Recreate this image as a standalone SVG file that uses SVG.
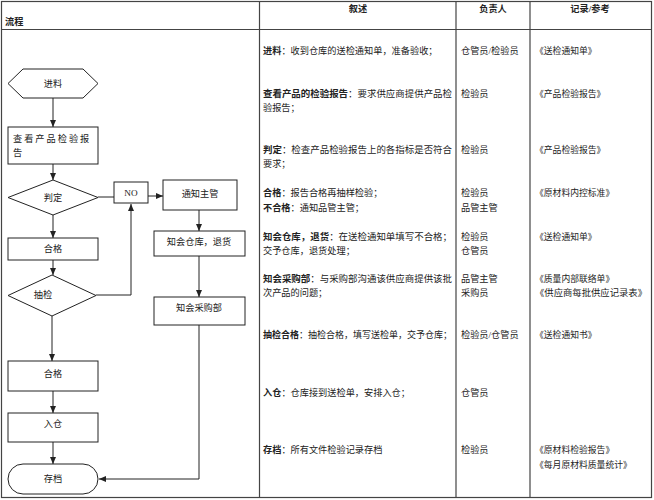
<svg xmlns="http://www.w3.org/2000/svg" width="654" height="500" viewBox="0 0 654 500">
<style>
text{font-family:"Liberation Serif","Noto Sans CJK SC",serif;font-size:9.2px;fill:#222}
.b{font-weight:bold}
.c{text-anchor:middle}
.s{fill:#fff;stroke:#222;stroke-width:1}
.l{fill:none;stroke:#222;stroke-width:1;marker-end:url(#a)}
.g{stroke:#444;stroke-width:1.2;fill:none}
#rec text{font-size:8.8px}
</style>
<defs><marker id="a" markerWidth="8" markerHeight="8" refX="7" refY="4" orient="auto" markerUnits="userSpaceOnUse"><path d="M0,1 L7,4 L0,7z" fill="#222"/></marker></defs>
<rect width="654" height="500" fill="#fff"/>
<g id="table">
<rect class="g" x="1.5" y="1.5" width="650" height="496"/>
<line class="g" x1="1.5" y1="29.5" x2="651" y2="29.5"/>
<line class="g" x1="259.5" y1="1.5" x2="259.5" y2="497"/>
<line class="g" x1="456" y1="1.5" x2="456" y2="497"/>
<line class="g" x1="530" y1="1.5" x2="530" y2="497"/>
<text class="b" x="5" y="25">流程</text>
<text class="b c" x="358" y="12">叙述</text>
<text class="b c" x="493" y="12">负责人</text>
<text class="b c" x="590" y="12">记录/参考</text>
</g>
<g id="desc">
<text x="263" y="54"><tspan class="b">进料</tspan>：收到仓库的送检通知单，准备验收；</text>
<text x="263" y="97" textLength="189" lengthAdjust="spacingAndGlyphs"><tspan class="b">查看产品的检验报告</tspan>：要求供应商提供产品检</text>
<text x="263" y="111">验报告；</text>
<text x="263" y="153" textLength="189" lengthAdjust="spacingAndGlyphs"><tspan class="b">判定</tspan>：检查产品检验报告上的各指标是否符合</text>
<text x="263" y="167">要求；</text>
<text x="263" y="196"><tspan class="b">合格</tspan>：报告合格再抽样检验；</text>
<text x="263" y="211"><tspan class="b">不合格</tspan>：通知品管主管；</text>
<text x="263" y="240" textLength="189" lengthAdjust="spacingAndGlyphs"><tspan class="b">知会仓库，退货</tspan>：在送检通知单填写不合格；</text>
<text x="263" y="254">交予仓库，退货处理；</text>
<text x="263" y="282" textLength="189" lengthAdjust="spacingAndGlyphs"><tspan class="b">知会采购部</tspan>：与采购部沟通该供应商提供该批</text>
<text x="263" y="296">次产品的问题；</text>
<text x="263" y="338" textLength="189" lengthAdjust="spacingAndGlyphs"><tspan class="b">抽检合格</tspan>：抽检合格，填写送检单，交予仓库；</text>
<text x="263" y="396"><tspan class="b">入仓</tspan>：仓库接到送检单，安排入仓；</text>
<text x="263" y="453"><tspan class="b">存档</tspan>：所有文件检验记录存档</text>
</g>
<g id="resp">
<text x="461" y="54">仓管员/检验员</text>
<text x="461" y="97">检验员</text>
<text x="461" y="153">检验员</text>
<text x="461" y="196">检验员</text>
<text x="461" y="211">品管主管</text>
<text x="461" y="240">检验员</text>
<text x="461" y="254">仓管员</text>
<text x="461" y="282">品管主管</text>
<text x="461" y="296">采购员</text>
<text x="461" y="338">检验员/仓管员</text>
<text x="461" y="396">仓管员</text>
<text x="461" y="453">检验员</text>
</g>
<g id="rec">
<text x="535" y="54">《送检通知单》</text>
<text x="535" y="97">《产品检验报告》</text>
<text x="535" y="153">《产品检验报告》</text>
<text x="535" y="196">《原材料内控标准》</text>
<text x="535" y="240">《送检通知单》</text>
<text x="535" y="282">《质量内部联络单》</text>
<text x="535" y="296" textLength="112" lengthAdjust="spacingAndGlyphs">《供应商每批供应记录表》</text>
<text x="535" y="338">《送检通知书》</text>
<text x="535" y="453">《原材料检验报告》</text>
<text x="535" y="468">《每月原材料质量统计》</text>
</g>
<g id="connectors">
<line class="l" x1="53" y1="98" x2="53" y2="127"/>
<line class="l" x1="53" y1="164" x2="53" y2="180"/>
<line class="l" x1="53" y1="215" x2="53" y2="238"/>
<line class="l" x1="53" y1="260" x2="53" y2="275"/>
<line class="l" x1="52" y1="316" x2="52" y2="361"/>
<line class="l" x1="53" y1="391" x2="53" y2="413"/>
<line class="l" x1="53" y1="442" x2="53" y2="464"/>
<line x1="98" y1="197" x2="114" y2="197" stroke="#222"/>
<line class="l" x1="148" y1="196" x2="163" y2="196"/>
<polyline class="l" points="96,295 131,295 131,204"/>
<line class="l" x1="199" y1="210" x2="199" y2="231"/>
<line class="l" x1="199" y1="255" x2="199" y2="297"/>
<polyline class="l" points="199,325 199,479 99,479"/>
</g>
<g id="n1"><polygon class="s" points="23,69 83,69 98,83.5 83,98 23,98 8,83.5"/><text class="c" x="53" y="87">进料</text></g>
<g id="n2"><rect class="s" x="8" y="127" width="90" height="37"/><text x="13" y="142" letter-spacing="2">查看产品检验报</text><text x="13" y="156">告</text></g>
<g id="n3"><polygon class="s" points="53,180 98,197.5 53,215 8,197.5"/><text class="c" x="53" y="201">判定</text></g>
<g id="n4"><rect class="s" x="114" y="182" width="34" height="21"/><text class="c" x="131" y="196">NO</text></g>
<g id="n5"><rect class="s" x="163" y="180" width="74" height="30"/><text class="c" x="200" y="197">通知主管</text></g>
<g id="n6"><rect class="s" x="154" y="231" width="91" height="25"/><text class="c" x="199" y="245">知会仓库，退货</text></g>
<g id="n7"><rect class="s" x="8" y="238" width="90" height="22"/><text class="c" x="53" y="252">合格</text></g>
<g id="n8"><polygon class="s" points="52,275 96,295.5 52,316 8,295.5"/><text class="c" x="43" y="298">抽检</text></g>
<g id="n9"><rect class="s" x="154" y="297" width="91" height="28"/><text class="c" x="199" y="311">知会采购部</text></g>
<g id="n10"><rect class="s" x="8" y="361" width="90" height="30"/><text class="c" x="53" y="377">合格</text></g>
<g id="n11"><rect class="s" x="8" y="413" width="90" height="29"/><text class="c" x="53" y="427">入仓</text></g>
<g id="n12"><rect class="s" x="8" y="464" width="90" height="30" rx="15"/><text class="c" x="53" y="482">存档</text></g>
</svg>
